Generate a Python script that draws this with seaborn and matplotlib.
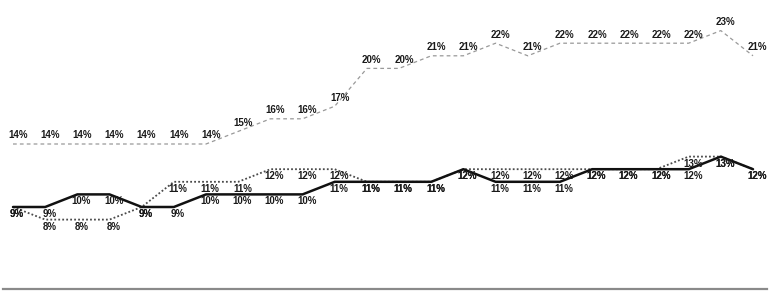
import matplotlib
matplotlib.use("Agg")
import matplotlib.pyplot as plt
import seaborn as sns
import pandas as pd
import numpy as np

periods = list(range(24))
dashed_vals = [14, 14, 14, 14, 14, 14, 14, 15, 16, 16, 17, 20, 20, 21, 21, 22, 21, 22, 22, 22, 22, 22, 23, 21]
solid_vals = [9, 9, 10, 10, 9, 9, 10, 10, 10, 10, 11, 11, 11, 11, 12, 11, 11, 11, 12, 12, 12, 12, 13, 12]
dotted_vals = [9, 8, 8, 8, 9, 11, 11, 11, 12, 12, 12, 11, 11, 11, 12, 12, 12, 12, 12, 12, 12, 13, 13, 12]

sns.set_theme(style="white")
plt.rcParams['font.family'] = ['Liberation Sans', 'DejaVu Sans']

fig = plt.figure(figsize=(7.77, 2.95), dpi=100)
W, H = 777, 295
ax = fig.add_axes([3 / W, 6 / H, (767 - 3) / W, (289 - 0) / H])

df = pd.DataFrame({"x": periods, "dashed": dashed_vals, "solid": solid_vals, "dotted": dotted_vals})

sns.lineplot(data=df, x="x", y="dashed", ax=ax, color="#999999", linewidth=0.9,
             linestyle=(0, (3, 2.5)))
sns.lineplot(data=df, x="x", y="dotted", ax=ax, color="#4a4a4a", linewidth=1.3,
             linestyle=(0, (1, 1.2)))
sns.lineplot(data=df, x="x", y="solid", ax=ax, color="#111111", linewidth=1.8)

lab_kw = dict(textcoords="offset points", ha="center", va="center",
              fontsize=7, fontweight="bold", color="#1a1a1a")
for x, v in zip(periods, dashed_vals):
    ax.annotate(f"{v}%", (x, v), xytext=(3.5, 6.2), **lab_kw)
for x, v in zip(periods, solid_vals):
    ax.annotate(f"{v}%", (x, v), xytext=(3, -5), **lab_kw)
for x, v in zip(periods, dotted_vals):
    ax.annotate(f"{v}%", (x, v), xytext=(3, -5), **lab_kw)

step = (753 - 13) / 23
ax.set_xlim(-(13 - 3) / step, 23 + (767 - 753) / step)
ppv = 12.6
ax.set_ylim(14 - (289 - 144) / ppv, 14 + 144 / ppv)

for s in ["top", "left", "right"]:
    ax.spines[s].set_visible(False)
ax.spines["bottom"].set_color("#8a8a8a")
ax.spines["bottom"].set_linewidth(1.6)
ax.set_xticks([])
ax.set_yticks([])
ax.set_xlabel("")
ax.set_ylabel("")

fig.savefig("out.png", dpi=100)
